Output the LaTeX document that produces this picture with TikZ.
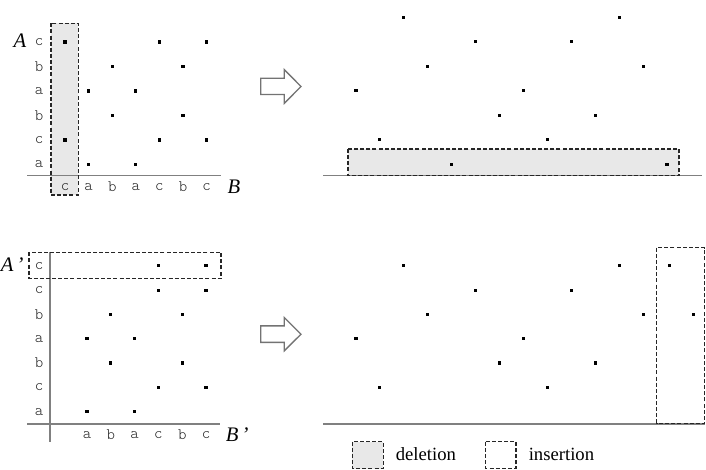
\documentclass[tikz,border=0pt]{standalone}
\usepackage{fontspec}
\setmainfont{Liberation Serif}
\newfontfamily\monolight{Latin Modern Mono Light}
\begin{document}
\begin{tikzpicture}[x=0.75pt,y=-0.75pt,
  dot/.style={fill=black,inner sep=0pt,minimum size=2.3pt},
  lab/.style={font=\monolight\fontsize{12}{13}\selectfont,text=black!85,inner sep=0pt},
  axisname/.style={font=\itshape\fontsize{15.5}{16}\selectfont,inner sep=0pt},
  axisline/.style={draw=black!50,line width=0.9pt},
  dbox/.style={draw=black!85,dash pattern=on 3pt off 1.6pt,line width=0.8pt},
  delfill/.style={fill=black!9},
  bigarrow/.style={draw=black!55,line width=1pt,fill=white,line join=miter},
  legtext/.style={font=\fontsize{14}{16}\selectfont,inner sep=0pt,anchor=base west}]

\useasboundingbox (0,0) rectangle (706,469);

%% ---------- top-left ----------
\path[delfill] (51,23.3) rectangle (78.3,195);
\coordinate (tlax1) at (27,175.7); \coordinate (tlax2) at (221,175.7);
\draw[axisline] (tlax1) -- (tlax2);
\draw[dbox] (51,23.3) rectangle (78.3,195);
\foreach \l [count=\i from 0] in {c,b,a,b,c,a}
  \node[lab] (tlrow\i) at (39,42+24.5*\i) {\l};
\foreach \l [count=\j from 0] in {c,a,b,a,c,b,c}
  \node[lab] (tlcol\j) at (65+23.6*\j,186.7) {\l};
\foreach \r/\c in {0/0,0/4,0/6,1/2,1/5,2/1,2/3,3/2,3/5,4/0,4/4,4/6,5/1,5/3}
  \node[dot] (tld\r-\c) at (65+23.6*\c,42+24.5*\r) {};
\node[axisname] (A) at (20,41) {A};
\node[axisname] (B) at (234,187) {B};

%% ---------- arrows ----------
\draw[bigarrow] (260.7,78.3) -- (284.3,78.3) -- (284.3,69.6) -- (301,86.5)
  -- (284.3,103.3) -- (284.3,94.5) -- (260.7,94.5) -- cycle;
\draw[bigarrow] (260.7,325.9) -- (284.3,325.9) -- (284.3,317.5) -- (301,334.2)
  -- (284.3,350.8) -- (284.3,342.4) -- (260.7,342.4) -- cycle;

%% ---------- top-right ----------
\path[delfill] (348,149) rectangle (679,175.7);
\foreach \r/\c in {0/2,0/11,1/5,1/9,2/3,2/12,3/0,3/7,4/6,4/10,5/1,5/8,6/4,6/13}
  \node[dot] (trd\r-\c) at (356+23.92*\c,17.3+24.5*\r) {};
\coordinate (trax1) at (323,175.7); \coordinate (trax2) at (702,175.7);
\draw[axisline] (trax1) -- (trax2);
\draw[dbox] (348,149) rectangle (679,175.7);

%% ---------- bottom-left ----------
\coordinate (blax1) at (27,424); \coordinate (blax2) at (220,424);
\coordinate (blay1) at (50,251.7); \coordinate (blay2) at (50,441.7);
\draw[axisline] (blax1) -- (blax2);
\draw[axisline] (blay1) -- (blay2);
\foreach \l [count=\i from 0] in {c,c,b,a,b,c,a}
  \node[lab] (blrow\i) at (39,265.7+24.33*\i) {\l};
\foreach \l [count=\j from 0] in {a,b,a,c,b,c}
  \node[lab] (blcol\j) at (87+23.8*\j,435) {\l};
\foreach \r/\c in {0/3,0/5,1/3,1/5,2/1,2/4,3/0,3/2,4/1,4/4,5/3,5/5,6/0,6/2}
  \node[dot] (bld\r-\c) at (87+23.8*\c,265.7+24.33*\r) {};
\draw[dbox] (29,252.3) rectangle (221,278.3);
\node[axisname,anchor=west] (Ap) at (0.5,265) {A\hspace{2.5pt}'};
\node[axisname,anchor=west] (Bp) at (225.5,435) {B\hspace{2.5pt}'};

%% ---------- bottom-right ----------
\foreach \r/\c in {0/2,0/11,1/5,1/9,2/3,2/12,3/0,3/7,4/6,4/10,5/1,5/8}
  \node[dot] (brd\r-\c) at (356+23.92*\c,265.7+24.33*\r) {};
\node[dot] (brn1) at (669.3,265.7) {};
\node[dot] (brn2) at (693.3,314.4) {};
\coordinate (brax1) at (323,424); \coordinate (brax2) at (705,424);
\draw[axisline] (brax1) -- (brax2);
\draw[dbox] (656.7,247.7) rectangle (704.6,423.3);

%% ---------- legend ----------
\draw[dbox,delfill] (352.3,441.7) rectangle (383.3,468.5);
\node[legtext] (ldel) at (395.5,460.5) {deletion};
\draw[dbox] (485.7,441.7) rectangle (516,468.5);
\node[legtext] (lins) at (528.5,460.5) {insertion};
\end{tikzpicture}
\end{document}
